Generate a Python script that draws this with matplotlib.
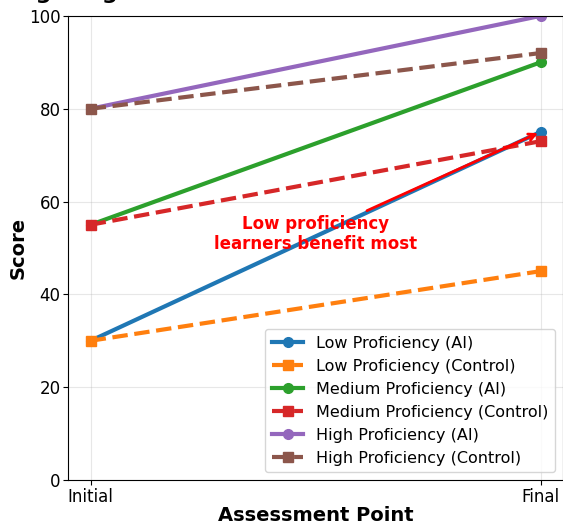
import matplotlib.pyplot as plt

points = ["Initial", "Final"]
low_ai = [30, 75]
low_ctrl = [30, 45]
med_ai = [55, 90]
med_ctrl = [55, 73]
high_ai = [80, 100]
high_ctrl = [80, 92]

fig = plt.figure(figsize=(5.63, 5.22), dpi=100)
ax = fig.add_axes([0.121, 0.0805, 0.879, 0.889])

x = range(len(points))
ax.plot(x, low_ai, 'o-', color='#1f77b4', lw=3, ms=7, label='Low Proficiency (AI)')
ax.plot(x, low_ctrl, 's--', color='#ff7f0e', lw=3, ms=7, label='Low Proficiency (Control)')
ax.plot(x, med_ai, 'o-', color='#2ca02c', lw=3, ms=7, label='Medium Proficiency (AI)')
ax.plot(x, med_ctrl, 's--', color='#d62728', lw=3, ms=7, label='Medium Proficiency (Control)')
ax.plot(x, high_ai, 'o-', color='#9467bd', lw=3, ms=7, label='High Proficiency (AI)')
ax.plot(x, high_ctrl, 's--', color='#8c564b', lw=3, ms=7, label='High Proficiency (Control)')

ax.annotate("Low proficiency\nlearners benefit most", xy=(1, low_ai[1]), xytext=(0.5, 53),
            ha='center', va='center', color='red', fontsize=12, fontweight='bold',
            arrowprops=dict(arrowstyle='->', color='red', lw=2))

ax.set_xticks(list(x))
ax.set_xticklabels(points)
ax.set_ylim(0, 100)
ax.tick_params(labelsize=12, pad=2)
ax.set_xlabel('Assessment Point', fontsize=14, fontweight='bold', labelpad=0)
ax.set_ylabel('Score', fontsize=14, fontweight='bold', labelpad=1)
ax.set_title('Learning Progression: AI-Assisted vs Traditional Instruction',
             fontsize=16, fontweight='bold', pad=12)
ax.grid(True, alpha=0.3)
ax.legend(loc='lower right', fontsize=11.5)

fig.savefig('out.png', dpi=100)
